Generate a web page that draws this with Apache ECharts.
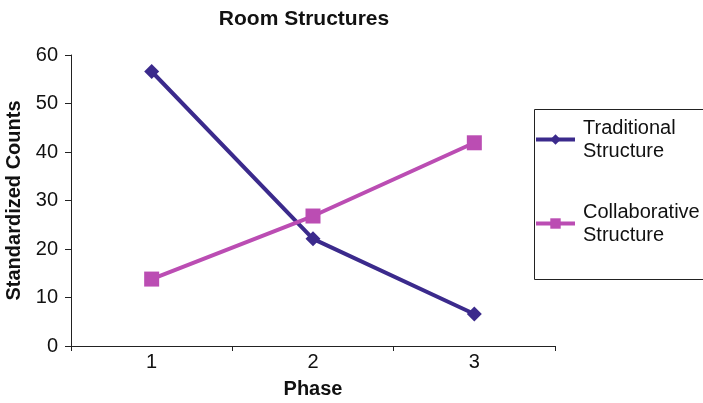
<!DOCTYPE html>
<html>
<head>
<meta charset="utf-8">
<script src="https://cdn.jsdelivr.net/npm/echarts@6/dist/echarts.min.js"></script>
<style>html,body{margin:0;padding:0;background:#fff}#c{width:703px;height:403px}</style>
</head>
<body>
<div id="c"></div>
<script>
const categories = ['1', '2', '3'];
const traditional = [56.6, 22.1, 6.6];
const collaborative = [13.8, 26.8, 41.9];
const seriesNames = ['Traditional\nStructure', 'Collaborative\nStructure'];
const yTicks = { min: 0, max: 60, interval: 10 };

const FONT = '"Liberation Sans", Arial, Helvetica, sans-serif';
const navy = '#3b2a8c';
const magenta = '#bb4db3';

const chart = echarts.init(document.getElementById('c'));
chart.setOption({
  animation: false,
  backgroundColor: '#fff',
  title: {
    text: 'Room Structures',
    left: 299, top: 4, textAlign: 'center',
    textStyle: { fontFamily: FONT, fontSize: 21, fontWeight: 'bold', color: '#111' }
  },
  graphic: [{
    type: 'rect', left: 532, top: 107,
    shape: { width: 220, height: 170 },
    style: { fill: 'none', stroke: '#222', lineWidth: 1 }
  }],
  legend: {
    orient: 'vertical',
    left: 534, top: 105,
    padding: 0,
    itemGap: 15,
    itemWidth: 39, itemHeight: 13,
    data: seriesNames,
    lineStyle: { width: 4 },
    textStyle: { fontFamily: FONT, fontSize: 20, lineHeight: 23, color: '#111', padding: [23, 0, 0, 3] }
  },
  grid: { left: 71, right: 148, top: 55, bottom: 57, containLabel: false, outerBoundsMode: 'none' },
  xAxis: {
    type: 'category',
    data: categories,
    boundaryGap: true,
    name: 'Phase', nameLocation: 'middle', nameGap: 33,
    nameTextStyle: { fontFamily: FONT, fontSize: 20, fontWeight: 'bold', color: '#111' },
    axisLine: { lineStyle: { color: '#222', width: 1 } },
    axisTick: { show: true, length: 5, inside: false, alignWithLabel: false, lineStyle: { color: '#222' } },
    axisLabel: { fontFamily: FONT, fontSize: 20, color: '#111', margin: 6 },
    splitLine: { show: false }
  },
  yAxis: {
    type: 'value',
    min: yTicks.min, max: yTicks.max, interval: yTicks.interval,
    name: 'Standardized Counts', nameLocation: 'middle', nameGap: 42, nameRotate: 90,
    nameTextStyle: { fontFamily: FONT, fontSize: 20, fontWeight: 'bold', color: '#111' },
    axisLine: { show: true, lineStyle: { color: '#222', width: 1 } },
    axisTick: { show: true, length: 6, lineStyle: { color: '#222' } },
    axisLabel: { fontFamily: FONT, fontSize: 20, color: '#111', margin: 13 },
    splitLine: { show: false }
  },
  series: [
    {
      name: seriesNames[0], type: 'line', data: traditional,
      symbol: 'diamond', symbolSize: 15,
      lineStyle: { color: navy, width: 4 },
      itemStyle: { color: navy }
    },
    {
      name: seriesNames[1], type: 'line', data: collaborative,
      symbol: 'rect', symbolSize: 15,
      lineStyle: { color: magenta, width: 4 },
      itemStyle: { color: magenta }
    }
  ]
});
</script>
</body>
</html>
